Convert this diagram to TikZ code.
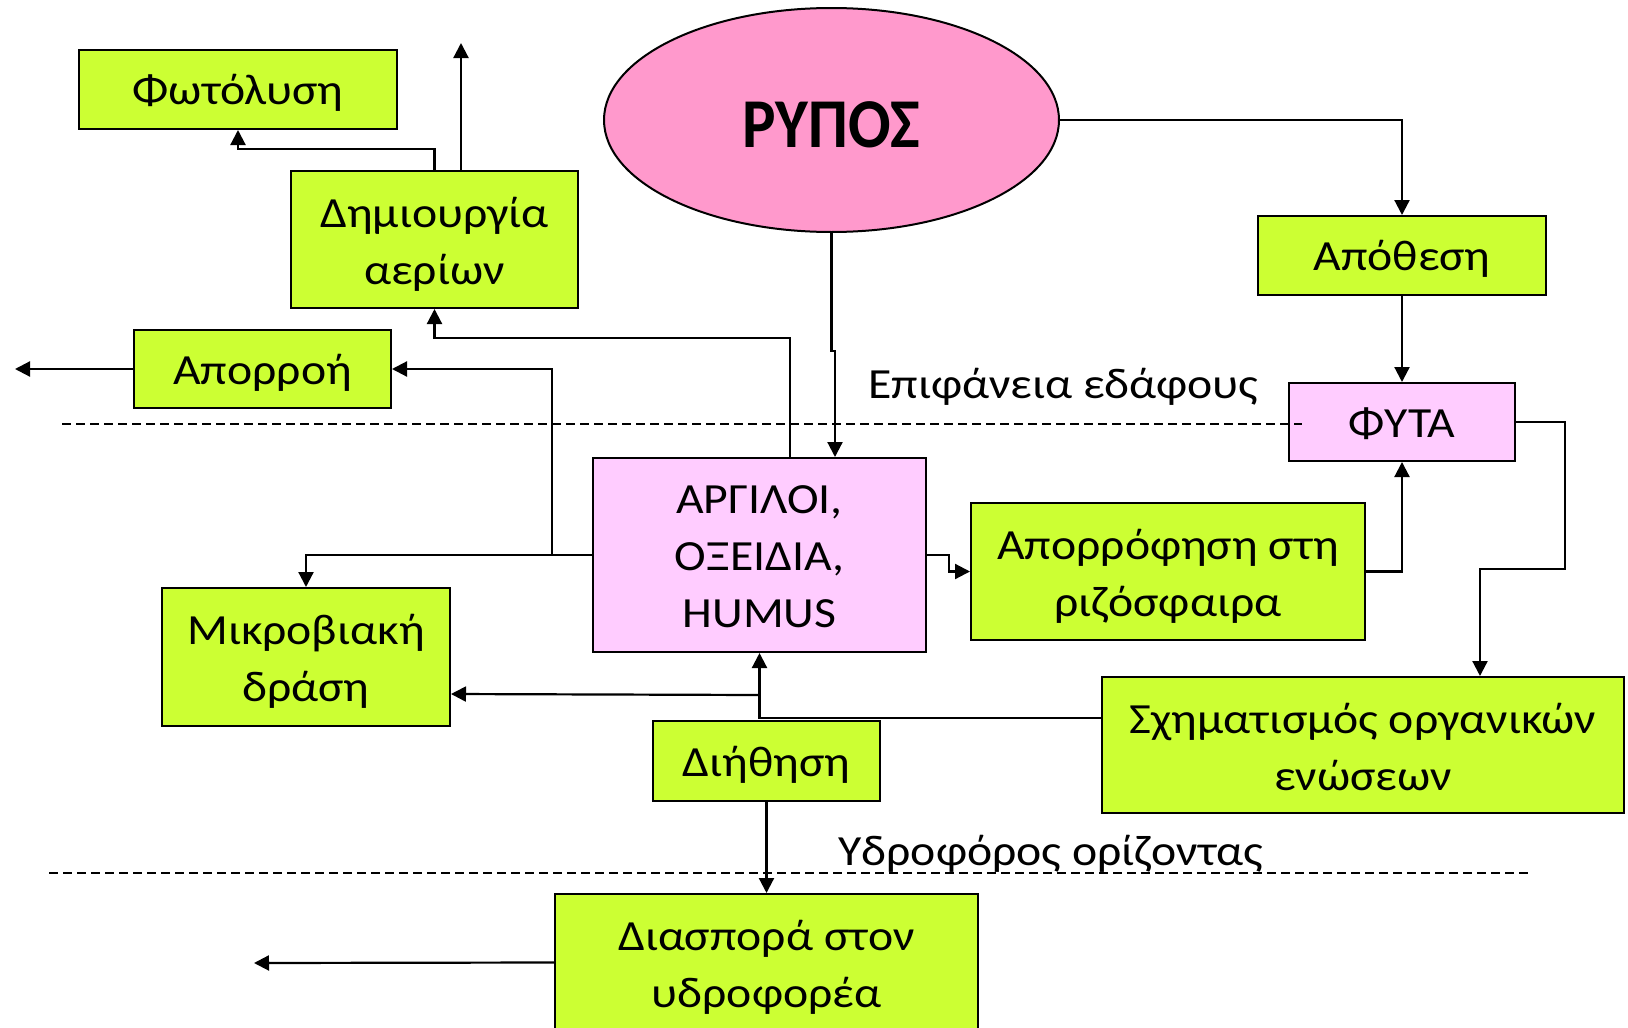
\documentclass[tikz,border=0pt]{standalone}
\usepackage{fontspec}
\setmainfont[FakeStretch=1.11]{Carlito}
\newfontfamily\titlefont[FakeStretch=0.9]{Carlito}
\usetikzlibrary{arrows.meta,shapes.geometric}

\definecolor{boxgreen}{RGB}{204,255,51}
\definecolor{boxpink}{RGB}{255,204,255}
\definecolor{ovalpink}{RGB}{255,153,204}

% invisible strut that sets the height of a first text line
\newcommand\linestrut[1]{\rule{0pt}{#1}}

\begin{document}
\begin{tikzpicture}[x=0.5pt,y=-0.5pt,
  every node/.style={inner sep=0pt, font=\fontsize{21.5}{28.5}\selectfont},
  sz/.style 2 args={minimum width=#1*0.5pt, minimum height=#2*0.5pt},
  % uniform height and depth for one-line box texts
  oneline/.style={
    execute at begin node={\rule{0pt}{20pt}},
    execute at end node={\rule[-5pt]{0pt}{5pt}}},
  gbox/.style={draw=black, line width=1pt, fill=boxgreen, align=center},
  pbox/.style={draw=black, line width=1pt, fill=boxpink, align=center},
  arr/.style={draw=black, line width=1.1pt, -{Triangle[length=7.5pt,width=7.5pt]}},
  ground/.style={draw=black, line width=0.7pt, dash pattern=on 4.5pt off 2.5pt},
  lbl/.style={anchor=base west}
]
\useasboundingbox (0,0) rectangle (1628,1028);

% boxes
\node[gbox, oneline, sz={318}{79}]  (photo)   at (238,89.5)    {Φωτόλυση};
\node[gbox, sz={287}{137}] (gas)     at (434.5,239.5) {\linestrut{19.5pt}Δημιουργία\\αερίων};
\node[gbox, oneline, sz={257}{78}]  (runoff)  at (262.5,369)   {Απορροή};
\node[ellipse, draw=black, line width=1pt, fill=ovalpink, sz={455}{224},
      text height=27pt, text depth=0pt,
      font=\fontsize{35}{42}\titlefont\bfseries] (rypos) at (831.5,120) {ΡΥΠΟΣ};
\node[gbox, oneline, sz={288}{79}]  (deposit) at (1402,255.5)  {Απόθεση};
\node[pbox, oneline, sz={226}{78}]  (plants)  at (1402,422)    {ΦΥΤΑ};
\node[pbox, sz={333}{194}] (clay)    at (759.5,555)   {\linestrut{16pt}ΑΡΓΙΛΟΙ,\\ΟΞΕΙΔΙΑ,\\HUMUS};
\node[gbox, sz={394}{137}] (rhizo)   at (1168,571.5)  {\linestrut{19.5pt}Απορρόφηση στη\\ριζόσφαιρα};
\node[gbox, sz={288}{138}] (micro)   at (306,657)     {\linestrut{19.5pt}Μικροβιακή\\δράση};
\node[gbox, sz={522}{136}] (organic) at (1363,745)    {\linestrut{17pt}Σχηματισμός οργανικών\\ενώσεων};
\node[gbox, oneline, sz={227}{80}]  (leach)   at (766.5,761)   {Διήθηση};
\node[gbox, sz={423}{137}] (disp)    at (766.5,962.5) {\linestrut{19.5pt}Διασπορά στον\\υδροφορέα};

% free ends of the outgoing arrows
\coordinate (gasvent)   at (461,43);
\coordinate (runoffend) at (15,369);
\coordinate (dispend)   at (254,963);

% connectors
\draw[arr] (gas.north) -- ++(0,-21) -| (photo.south);
\draw[arr] (gas.north -| gasvent) -- (gasvent);
\draw[arr] (runoff.west) -- (runoffend);
\draw[arr] (clay.west) -- ++(-40,0) |- (runoff.east);
\draw[arr] (clay.west) -| (micro.north);
\draw[arr] ([xshift=15.25pt]clay.north) -- ++(0,-119) -| (gas.south);
\draw[arr] (rypos.south) -- ++(0,118) -| ([xshift=37.75pt]clay.north);
\draw[arr] (rypos.east) -| (deposit.north);
\draw[arr] (deposit.south) -- (plants.north);
\draw[arr] (clay.east) -- ++(22,0) |- (rhizo.west);
\draw[arr] (rhizo.east) -| (plants.south);
\draw[arr] (plants.east) -- ++(49,0) -- ++(0,147) -| ([xshift=58.5pt]organic.north);
\draw[arr] ([yshift=13.5pt]organic.west) -| (clay.south);
\draw[arr] ([yshift=-21pt]clay.south) -- ([yshift=-18.5pt]micro.east);
\draw[arr] (leach.south) -- (disp.north);
\draw[arr] (disp.west) -- (dispend);

% soil surface and water table
\coordinate (s1) at (62,424);
\coordinate (s2) at (1302,424);
\coordinate (w1) at (49,873);
\coordinate (w2) at (1531,873);
\draw[ground] (s1) -- (s2);
\draw[ground] (w1) -- (w2);
\node[lbl] (surf)  at (868,398) {Επιφάνεια εδάφους};
\node[lbl] (aquif) at (838,865) {Υδροφόρος ορίζοντας};
\end{tikzpicture}
\end{document}
